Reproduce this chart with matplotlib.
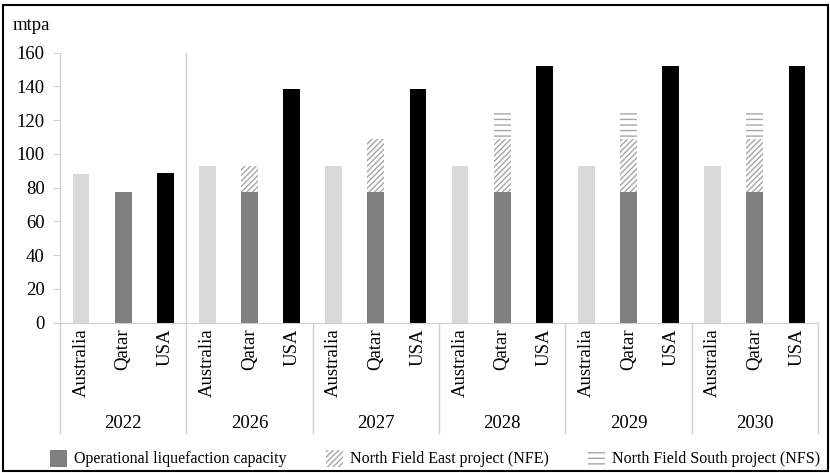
import matplotlib.pyplot as plt
from matplotlib.patches import Rectangle
from matplotlib.transforms import blended_transform_factory
import numpy as np

plt.rcParams['font.family'] = ['Liberation Serif', 'DejaVu Serif']
plt.rcParams['hatch.linewidth'] = 1.0

years = ['2022', '2026', '2027', '2028', '2029', '2030']
countries = ['Australia', 'Qatar', 'USA']
australia = [88, 93, 93, 93, 93, 93]
qatar_operational = [77.5, 77.5, 77.5, 77.5, 77.5, 77.5]
qatar_nfe = [0, 15.5, 31.5, 31.5, 31.5, 31.5]
qatar_nfs = [0, 0, 0, 15, 15, 15]
usa = [88.5, 138.5, 138.5, 152, 152, 152]

light = '#d9d9d9'
mid = '#7f7f7f'
hatch_col = '#a6a6a6'
axis_col = '#d0d0d0'
fs = 13.5

W, H = 830, 473
fig = plt.figure(figsize=(W / 100, H / 100), dpi=100)
x0, x1, y0, y1 = 60, 818, 322.7, 52.7
ax = fig.add_axes([x0 / W, 1 - y0 / H, (x1 - x0) / W, (y0 - y1) / H])

n = len(years)
g = np.arange(n) * 3
bw = 0.4
ax.bar(g, australia, bw, color=light)
ax.bar(g + 1, qatar_operational, bw, color=mid)
ax.bar(g + 1, qatar_nfe, bw, bottom=qatar_operational, color='white',
       edgecolor=hatch_col, hatch='//////', linewidth=0)
base2 = np.array(qatar_operational) + np.array(qatar_nfe)
ax.bar(g + 1, qatar_nfs, bw, bottom=base2, color='white',
       edgecolor=hatch_col, hatch='---', linewidth=0)
ax.bar(g + 2, usa, bw, color='black')

ax.set_xlim(-0.5, n * 3 - 0.5)
ax.set_ylim(0, 160)
ax.set_yticks(range(0, 161, 20))
ax.tick_params(axis='y', labelsize=fs, color=axis_col, length=5, pad=6)
ax.set_xticks([])
for s in ['top', 'right']:
    ax.spines[s].set_visible(False)
for s in ['left', 'bottom']:
    ax.spines[s].set_color(axis_col)

tr = blended_transform_factory(ax.transData, ax.transAxes)
below = -(433 - y0) / (y0 - y1)
for i in range(n + 1):
    xb = i * 3 - 0.5
    top = 1 if i == 1 else 0
    ax.plot([xb, xb], [below, top], color=axis_col, lw=1, clip_on=False,
            transform=tr)
px = 1 / (y0 - y1)
for i in range(n):
    for j, c in enumerate(countries):
        ax.text(g[i] + j, -6 * px, c, rotation=90, ha='center', va='top',
                fontsize=fs, transform=tr)
    ax.text(g[i] + 1, -(423 - y0) * px, years[i], ha='center', va='center',
            fontsize=fs, transform=tr)

fig.text(13 / W, 1 - 25 / H, 'mtpa', ha='left', va='center', fontsize=fs)

legend = [('Operational liquefaction capacity', mid, None, 50),
          ('North Field East project (NFE)', 'white', '//////', 326),
          ('North Field South project (NFS)', 'white', '---', 588)]
for label, col, hatch, lx in legend:
    fig.patches.append(Rectangle((lx / W, 1 - 467 / H), 17 / W, 17 / H,
                                 transform=fig.transFigure, facecolor=col,
                                 edgecolor=hatch_col if hatch else col,
                                 hatch=hatch, linewidth=0))
    fig.text((lx + 24) / W, 1 - 459 / H, label, ha='left', va='center',
             fontsize=11.5)

fig.patches.append(Rectangle((3 / W, 2 / H), 825 / W, 466 / H,
                             transform=fig.transFigure, fill=False,
                             edgecolor='black', linewidth=1.5))

fig.savefig('out.png', dpi=100)
